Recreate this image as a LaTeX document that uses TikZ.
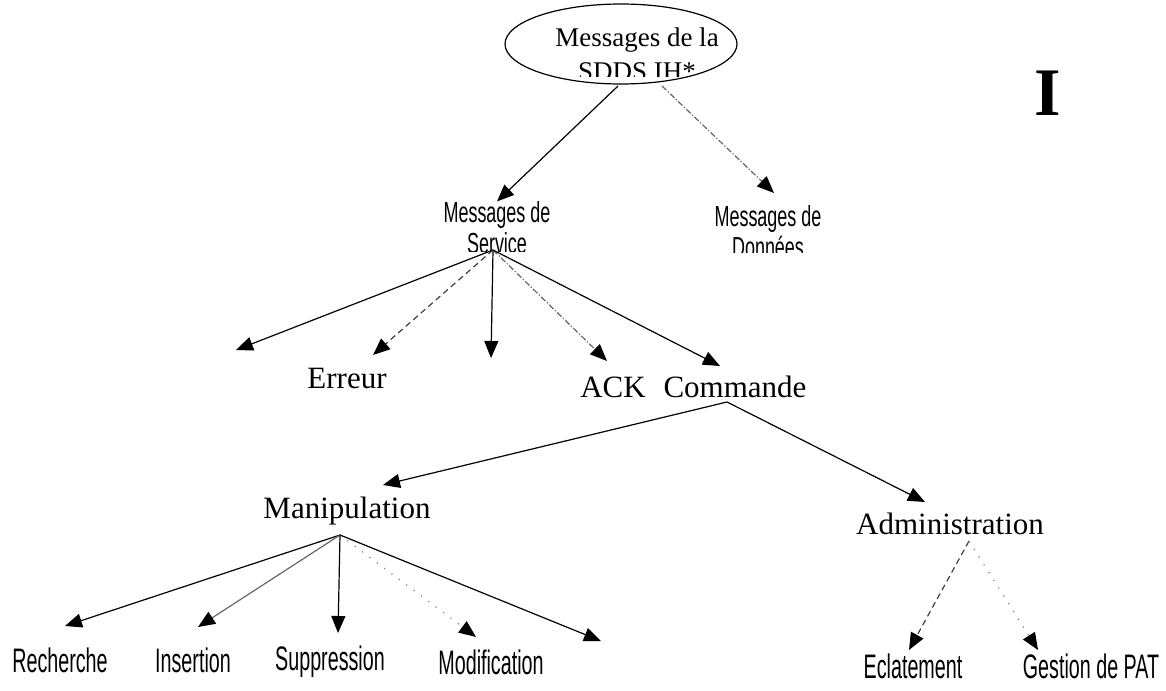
\documentclass[tikz,border=0pt]{standalone}
\usepackage{fontspec}
\setmainfont{Liberation Serif}
\newfontfamily\narrowfont[FakeStretch=0.58]{Liberation Sans}
\newfontfamily\groupfont[FakeStretch=0.62]{Liberation Sans}
\usetikzlibrary{arrows.meta,shapes.geometric}
\tikzset{
  root/.style={draw, ellipse, semithick, minimum width=116pt, minimum height=40pt, inner sep=0pt},
  serif/.style={font=\fontsize{15.5}{16}\selectfont, inner sep=0pt},
  leaf/.style={font=\narrowfont\fontsize{17}{18}\selectfont, inner sep=0pt},
  group/.style={font=\groupfont\fontsize{14.5}{15.5}\selectfont, align=center, inner sep=0pt},
  flow/.style={-{Triangle[length=8.5pt,width=7pt,color=black]}, line width=0.6pt, draw=black},
  dashflow/.style={flow, densely dashed, draw=black!75},
  dotflow/.style={flow, densely dash dot, draw=black!60},
  faint/.style={flow, loosely dotted, draw=black!50}
}
\begin{document}
\begin{tikzpicture}[x=0.5pt,y=-0.5pt]
\useasboundingbox (0,0) rectangle (1166,690);

% top of the tree
\node[root] (sdds) at (621,44) {};
\begin{scope}
  \clip (540,10) rectangle (740,77);
  \node[font=\fontsize{13.5}{17}\selectfont, align=center, inner sep=0pt] (sddstxt) at (637,54) {Messages de la\\SDDS IH*};
\end{scope}
\node[font=\bfseries\fontsize{34}{34}\selectfont, inner sep=0pt] (mark) at (1048,93) {I};

% second level
\begin{scope}
  \clip (420,195) rectangle (580,251);
  \node[group] (service) at (497,228) {Messages de\\Service};
\end{scope}
\begin{scope}
  \clip (690,195) rectangle (850,252);
  \node[group] (donnees) at (768,232) {Messages de\\Données};
\end{scope}

\coordinate (sddsl) at (618,86);
\coordinate (sddsr) at (662,86);
\draw[flow] (sddsl) -- (service.north);
\draw[dotflow] (sddsr) -- (774,193) coordinate (dontip);

% messages de service
\node[serif] (erreur) at (347,378) {Erreur};
\node[serif] (ack) at (613,387) {ACK};
\node[serif] (commande) at (735,387) {Commande};

\coordinate (servicej) at (493,250);
\coordinate (svc1) at (236,350);
\coordinate (svc3) at (491,358);
\draw[flow] (servicej) -- (svc1);
\draw[dashflow] (servicej) -- (373,355) coordinate (erreurtip);
\draw[flow] (servicej) -- (svc3);
\draw[dotflow] (servicej) -- (607,361) coordinate (acktip);
\draw[flow] (servicej) -- (720,366) coordinate (cmdtip);

% commande
\node[serif] (manip) at (347,511) {Manipulation};
\node[serif] (admin) at (950,524) {Administration};

\coordinate (commandej) at (727,402);
\draw[flow] (commandej) -- (383,485) coordinate (maniptip);
\draw[flow] (commandej) -- (925,502) coordinate (admintip);

% manipulation
\node[leaf] (recherche) at (60,660) {Recherche};
\node[leaf] (insertion) at (193,660) {Insertion};
\node[leaf] (suppression) at (330,662) {Suppression};
\node[leaf] (modif) at (491,662) {Modification};

\coordinate (manipj) at (340,535);
\coordinate (manip5) at (601,641);
\draw[flow] (manipj) -- (65,626) coordinate (rechtip);
\draw[flow, draw=black!60] (manipj) -- (198,627) coordinate (instip);
\draw[flow] (manipj) -- (338,633) coordinate (supptip);
\draw[faint] (manipj) -- (476,637) coordinate (modtip);
\draw[flow] (manipj) -- (manip5);

% administration
\node[leaf] (eclat) at (913,666) {Eclatement};
\node[leaf] (gestion) at (1091,666) {Gestion de PAT};

\coordinate (adminj) at (969,541);
\draw[dashflow] (adminj) -- (909,650) coordinate (eclattip);
\draw[faint] (adminj) -- (1038,650) coordinate (gesttip);

\end{tikzpicture}
\end{document}
